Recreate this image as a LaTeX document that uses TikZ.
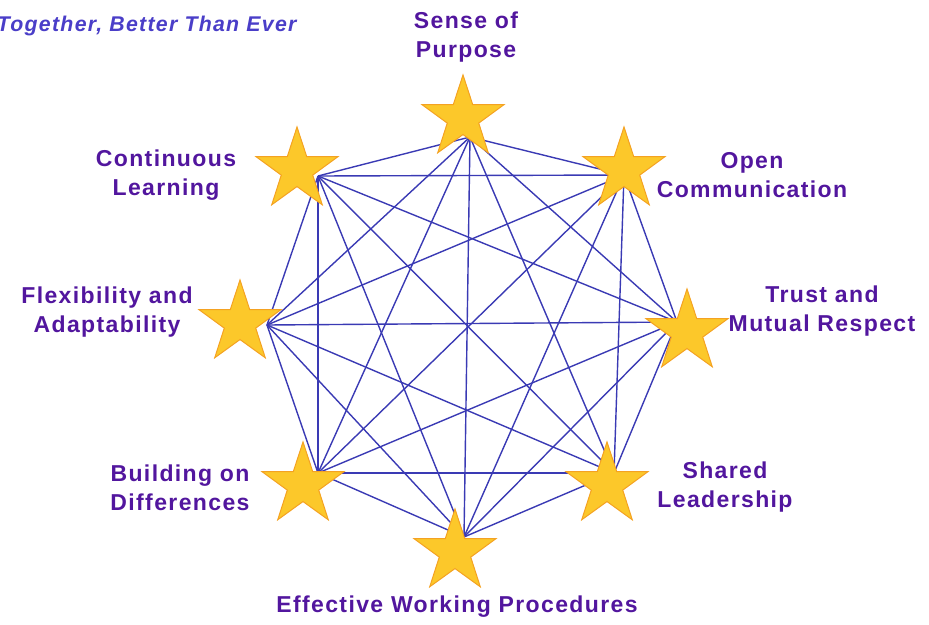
\documentclass[tikz,border=0pt]{standalone}
\usepackage{fontspec}
\setmainfont{Liberation Sans}
\newfontfamily\labfont[LetterSpace=6]{Liberation Sans}
\usetikzlibrary{shapes.geometric}
\definecolor{lpurple}{RGB}{82,22,158}
\definecolor{tblue}{RGB}{74,62,200}
\definecolor{lblue}{RGB}{58,58,180}
\definecolor{sgold}{RGB}{252,200,42}
\definecolor{sorange}{RGB}{244,162,34}

\begin{document}
\begin{tikzpicture}[x=1pt,y=-1pt,
  lab/.style={text=lpurple,font=\labfont\fontsize{23}{29}\selectfont\bfseries,align=center},
  gold/.style={star,star points=5,star point ratio=2.6,minimum size=86pt,inner sep=0pt,
    fill=sgold,draw=sorange,line width=1pt},
  link/.style={lblue,line width=1.4pt}]
\useasboundingbox (0,0) rectangle (929,624);
\node[anchor=base east,text=tblue,font=\labfont\fontsize{21.3}{26}\selectfont\bfseries\itshape] (title) at (300,31) {Together, Better Than Ever};
\coordinate (hsp) at (470,137);
\coordinate (hoc) at (624,175);
\coordinate (htm) at (677,322);
\coordinate (hsl) at (614,473);
\coordinate (hew) at (464,537);
\coordinate (hbd) at (318,473);
\coordinate (hfa) at (267,325);
\coordinate (hcl) at (318,176);
\foreach \a [count=\i] in {sp,oc,tm,sl,ew,bd,fa,cl}
  \foreach \b [count=\j] in {sp,oc,tm,sl,ew,bd,fa,cl}
    {\ifnum\j>\i \draw[link] (h\a) -- (h\b); \fi}
\node[gold] (ssp) at (463,118) {};
\node[gold] (soc) at (624,170) {};
\node[gold] (stm) at (687,332) {};
\node[gold] (ssl) at (607,485) {};
\node[gold] (sew) at (455,552) {};
\node[gold] (sbd) at (303,485) {};
\node[gold] (sfa) at (240,323) {};
\node[gold] (scl) at (297,170) {};
\node[lab] (tsp) at (466,37) {Sense of\\Purpose};
\node[lab] (toc) at (752,175) {Open\\Communication};
\node[lab] (ttm) at (822,311) {Trust and\\Mutual Respect};
\node[lab] (tsl) at (725,487) {Shared\\Leadership};
\node[lab] (tew) at (457,607) {Effective Working Procedures};
\node[lab] (tbd) at (180,488) {Building on\\Differences};
\node[lab] (tfa) at (107,312) {Flexibility and\\Adaptability};
\node[lab] (tcl) at (166,175) {Continuous\\Learning};
\end{tikzpicture}
\end{document}
